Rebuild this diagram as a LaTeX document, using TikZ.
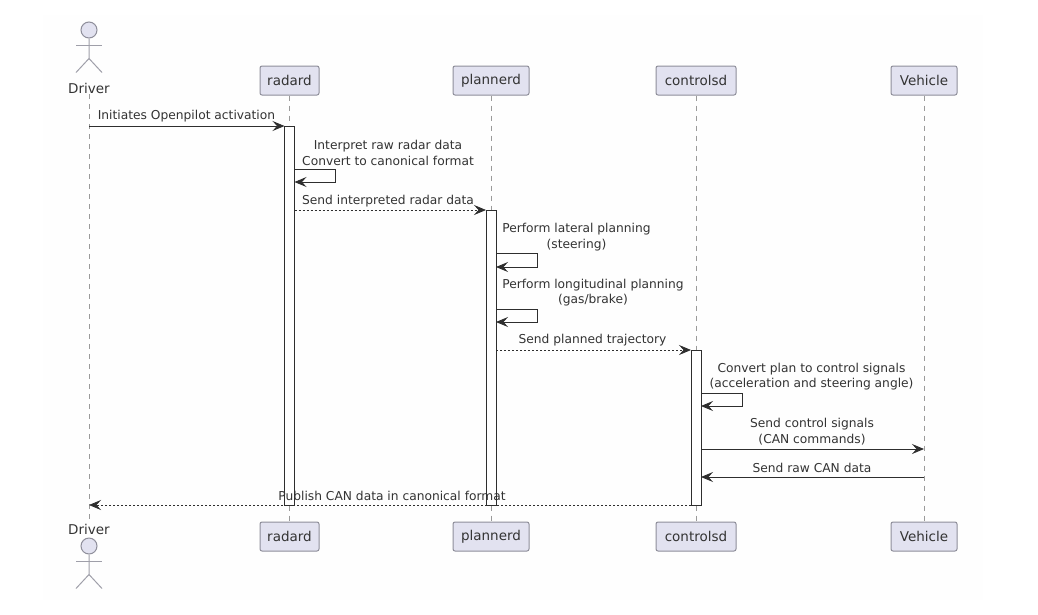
\documentclass[tikz,border=0pt]{standalone}
\usepackage{fontspec}
\setmainfont{DejaVu Sans}
\usetikzlibrary{arrows.meta,backgrounds}
\definecolor{partfill}{HTML}{E2E2F0}
\definecolor{partline}{HTML}{8E8E9A}
\definecolor{lifeline}{HTML}{9A9A9A}
\definecolor{msgline}{HTML}{2E2E2E}
\definecolor{msgtext}{HTML}{333333}
\definecolor{panel}{HTML}{FEFEFE}
\tikzset{
  x=1pt,y=-1pt,
  part/.style={draw=partline,fill=partfill,rounded corners=2pt,line width=1pt,minimum height=29pt,inner sep=0pt,text=msgtext,font=\fontsize{13.5}{15}\selectfont,anchor=center},
  lbl/.style={text=msgtext,font=\fontsize{12.25}{15.4}\selectfont,align=center,inner sep=0pt,anchor=center},
  actorlbl/.style={text=msgtext,font=\fontsize{13.5}{15}\selectfont,inner sep=0pt,anchor=center},
  life/.style={draw=lifeline,line width=0.9pt,dash pattern=on 5pt off 5pt},
  bar/.style={draw=msgline,fill=white,line width=1pt,inner sep=0pt,outer sep=0pt,minimum width=10pt,anchor=north},
  tip/.style={-{Stealth[length=12pt,width=10pt,inset=4.5pt]}},
  msg/.style={tip,draw=msgline,line width=0.85pt},
  dmsg/.style={tip,draw=msgline,line width=0.8pt,dash pattern=on 2pt off 2pt},
  actorshape/.style={draw=partline!85!white,line width=1pt},
}
\newcommand{\actorat}[3]{%
  \node[circle,draw=partline,fill=partfill,line width=1pt,minimum size=16pt,inner sep=0pt] (#3) at (#1,#2) {};
  \draw[actorshape] (#3.south) -- ++(0,20) -- ++(-13,14);
  \draw[actorshape] (#3.south) ++(0,20) -- ++(13,14);
  \draw[actorshape] (#3.south) ++(-13,7) -- ++(26,0);
}
\begin{document}
\begin{tikzpicture}
\useasboundingbox (0,0) rectangle (1038,614);
% participants
\actorat{89}{30}{drvT}
\actorat{89}{546}{drvB}
\node[actorlbl] (drvTl) at (89,88) {Driver};
\node[actorlbl] (drvBl) at (89,529) {Driver};
\node[part,minimum width=59pt] (radT) at (289.5,80.5) {radard};
\node[part,minimum width=76pt] (plaT) at (491,80.5) {plannerd};
\node[part,minimum width=80pt] (conT) at (696,80.5) {controlsd};
\node[part,minimum width=66pt] (vehT) at (924,80.5) {Vehicle};
\node[part,minimum width=59pt] (radB) at (289.5,536.5) {radard};
\node[part,minimum width=76pt] (plaB) at (491,536.5) {plannerd};
\node[part,minimum width=80pt] (conB) at (696,536.5) {controlsd};
\node[part,minimum width=66pt] (vehB) at (924,536.5) {Vehicle};
% page, panel, lifelines behind the nodes
\begin{pgfonlayer}{background}
\fill[white] (0,0) rectangle (1038,614);
\fill[panel] (43,15) rectangle (983,600);
\draw[life] (drvTl.south) ++(0,1) -- ([yshift=1pt]drvBl.north);
\draw[life] (radT.south) -- (radB.north);
\draw[life] (plaT.south) -- (plaB.north);
\draw[life] (conT.south) -- (conB.north);
\draw[life] (vehT.south) -- (vehB.north);
\end{pgfonlayer}
% activations
\node[bar,minimum height=379pt] (radA) at (289.5,126) {};
\node[bar,minimum height=295pt] (plaA) at (491,210) {};
\node[bar,minimum height=155pt] (conA) at (696,350) {};
% coordinates
\coordinate (d1) at (89,126);
\coordinate (r2b) at (335,169);
\coordinate (r2c) at (335,182);
\coordinate (p4b) at (537,253);
\coordinate (p4c) at (537,267);
\coordinate (p5b) at (537,309);
\coordinate (p5c) at (537,322);
\coordinate (c7b) at (742,393);
\coordinate (c7c) at (742,406);
\coordinate (v8) at (924,449);
\coordinate (v9) at (924,477);
\coordinate (d10) at (89,505);
% messages
\draw[msg] (d1) -- (radA.north west);
\draw[msg] (radA.east |- r2b) -- (r2b) -- (r2c) -- (radA.east |- r2c);
\draw[dmsg] (radA.east |- plaA.north) -- (plaA.north west);
\draw[msg] (plaA.east |- p4b) -- (p4b) -- (p4c) -- (plaA.east |- p4c);
\draw[msg] (plaA.east |- p5b) -- (p5b) -- (p5c) -- (plaA.east |- p5c);
\draw[dmsg] (plaA.east |- conA.north) -- (conA.north west);
\draw[msg] (conA.east |- c7b) -- (c7b) -- (c7c) -- (conA.east |- c7c);
\draw[msg] (conA.east |- v8) -- (v8);
\draw[msg] (v9) -- (conA.east |- v9);
\draw[dmsg] (conA.south west) -- (d10);
% labels
\node[lbl] (t1) at (186.5,116) {Initiates Openpilot activation};
\node[lbl] (t2) at (388,153) {Interpret raw radar data\\Convert to canonical format};
\node[lbl] (t3) at (388,201) {Send interpreted radar data};
\node[lbl] (t4) at (576.5,237) {Perform lateral planning\\(steering)};
\node[lbl] (t5) at (593,292.5) {Perform longitudinal planning\\(gas/brake)};
\node[lbl] (t6) at (592.5,340.5) {Send planned trajectory};
\node[lbl] (t7) at (811.5,376.5) {Convert plan to control signals\\(acceleration and steering angle)};
\node[lbl] (t8) at (812,431.5) {Send control signals\\(CAN commands)};
\node[lbl] (t9) at (812,468) {Send raw CAN data};
\node[lbl] (t10) at (392,495.5) {Publish CAN data in canonical format};
\end{tikzpicture}
\end{document}
